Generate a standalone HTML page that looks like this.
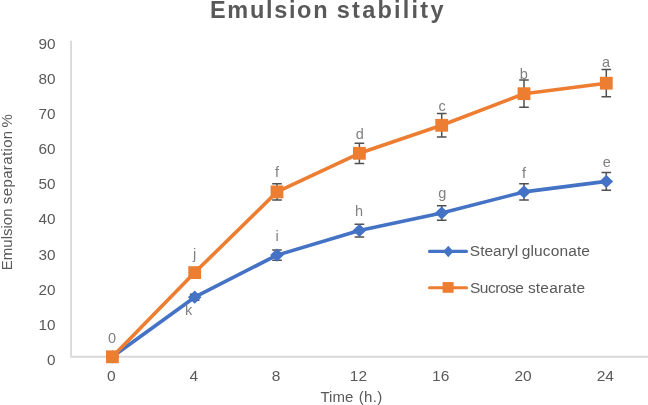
<!DOCTYPE html><html><head><meta charset="utf-8"><style>html,body{margin:0;padding:0;background:#fff;width:648px;height:405px;overflow:hidden}svg{display:block}text{font-family:"Liberation Sans",Arial,sans-serif;fill:#595959}</style></head><body>
<svg width="648" height="405" viewBox="0 0 648 405">
<rect width="648" height="405" fill="#fff"/>
<text y="17.8" font-weight="bold" font-size="23.5"><tspan x="209.99" textLength="117.5" lengthAdjust="spacing">Emulsion</tspan> <tspan x="336.8" textLength="106.7" lengthAdjust="spacing">stability</tspan></text>
<path d="M71.1 40.8V356.7H648" fill="none" stroke="#D9D9D9" stroke-width="1.9"/>
<text x="55.6" y="364.9" font-size="15.3" text-anchor="end">0</text>
<text x="55.6" y="329.8" font-size="15.3" text-anchor="end">10</text>
<text x="55.6" y="294.7" font-size="15.3" text-anchor="end">20</text>
<text x="55.6" y="259.5" font-size="15.3" text-anchor="end">30</text>
<text x="55.6" y="224.4" font-size="15.3" text-anchor="end">40</text>
<text x="55.6" y="189.3" font-size="15.3" text-anchor="end">50</text>
<text x="55.6" y="154.2" font-size="15.3" text-anchor="end">60</text>
<text x="55.6" y="119.1" font-size="15.3" text-anchor="end">70</text>
<text x="55.6" y="83.9" font-size="15.3" text-anchor="end">80</text>
<text x="55.6" y="48.8" font-size="15.3" text-anchor="end">90</text>
<text x="111.4" y="380.6" font-size="15.5" text-anchor="middle">0</text>
<text x="193.7" y="380.6" font-size="15.5" text-anchor="middle">4</text>
<text x="276.0" y="380.6" font-size="15.5" text-anchor="middle">8</text>
<text x="358.4" y="380.6" font-size="15.5" text-anchor="middle">12</text>
<text x="440.7" y="380.6" font-size="15.5" text-anchor="middle">16</text>
<text x="523.0" y="380.6" font-size="15.5" text-anchor="middle">20</text>
<text x="605.3" y="380.6" font-size="15.5" text-anchor="middle">24</text>
<text y="401.9" font-size="15"><tspan x="320.49" textLength="32.74" lengthAdjust="spacing">Time</tspan> <tspan x="358.68" textLength="23.62" lengthAdjust="spacing">(h.)</tspan></text>
<text transform="translate(11.6 268.9) rotate(-90)" y="0" font-size="15"><tspan x="-1.25" textLength="61.64" lengthAdjust="spacing">Emulsion</tspan> <tspan x="64.77" textLength="73.32" lengthAdjust="spacing">separation</tspan> <tspan x="141.44">%</tspan></text>

<path d="M194.7 294.2V300.2M189.9 294.2H199.5M189.9 300.2H199.5" stroke="#505050" stroke-width="1.5" fill="none"/>
<path d="M277.0 249.9V260.2M272.2 249.9H281.8M272.2 260.2H281.8" stroke="#505050" stroke-width="1.5" fill="none"/>
<path d="M359.4 224.2V236.9M354.6 224.2H364.2M354.6 236.9H364.2" stroke="#505050" stroke-width="1.5" fill="none"/>
<path d="M441.7 205.7V220.2M436.9 205.7H446.5M436.9 220.2H446.5" stroke="#505050" stroke-width="1.5" fill="none"/>
<path d="M524.0 183.8V200.1M519.2 183.8H528.8M519.2 200.1H528.8" stroke="#505050" stroke-width="1.5" fill="none"/>
<path d="M606.3 172.5V190.3M601.5 172.5H611.1M601.5 190.3H611.1" stroke="#505050" stroke-width="1.5" fill="none"/>
<polyline points="112.4,356.8 194.7,297.2 277.0,255.1 359.4,230.5 441.7,213.0 524.0,191.9 606.3,181.4" fill="none" stroke="#4472C4" stroke-width="3.6" stroke-linejoin="round" stroke-linecap="round"/>
<path d="M112.4 350.2L119.2 356.8L112.4 363.4L105.6 356.8Z" fill="#4472C4"/>
<path d="M194.7 290.6L201.5 297.2L194.7 303.8L187.9 297.2Z" fill="#4472C4"/>
<path d="M277.0 248.5L283.8 255.1L277.0 261.7L270.2 255.1Z" fill="#4472C4"/>
<path d="M359.4 223.9L366.2 230.5L359.4 237.1L352.6 230.5Z" fill="#4472C4"/>
<path d="M441.7 206.4L448.5 213.0L441.7 219.6L434.9 213.0Z" fill="#4472C4"/>
<path d="M524.0 185.3L530.8 191.9L524.0 198.5L517.2 191.9Z" fill="#4472C4"/>
<path d="M606.3 174.8L613.1 181.4L606.3 188.0L599.5 181.4Z" fill="#4472C4"/>


<path d="M277.0 183.8V200.0M272.2 183.8H281.8M272.2 200.0H281.8" stroke="#505050" stroke-width="1.5" fill="none"/>
<path d="M359.4 143.2V163.5M354.6 143.2H364.2M354.6 163.5H364.2" stroke="#505050" stroke-width="1.5" fill="none"/>
<path d="M441.7 113.6V137.0M436.9 113.6H446.5M436.9 137.0H446.5" stroke="#505050" stroke-width="1.5" fill="none"/>
<path d="M524.0 80.1V107.2M519.2 80.1H528.8M519.2 107.2H528.8" stroke="#505050" stroke-width="1.5" fill="none"/>
<path d="M606.3 69.5V96.8M601.5 69.5H611.1M601.5 96.8H611.1" stroke="#505050" stroke-width="1.5" fill="none"/>
<polyline points="112.4,356.8 194.7,272.6 277.0,191.9 359.4,153.3 441.7,125.3 524.0,93.7 606.3,83.2" fill="none" stroke="#ED7D31" stroke-width="3.6" stroke-linejoin="round" stroke-linecap="round"/>
<rect x="106.0" y="350.4" width="12.8" height="12.8" fill="#ED7D31"/>
<rect x="188.3" y="266.2" width="12.8" height="12.8" fill="#ED7D31"/>
<rect x="270.6" y="185.5" width="12.8" height="12.8" fill="#ED7D31"/>
<rect x="353.0" y="146.9" width="12.8" height="12.8" fill="#ED7D31"/>
<rect x="435.3" y="118.9" width="12.8" height="12.8" fill="#ED7D31"/>
<rect x="517.6" y="87.3" width="12.8" height="12.8" fill="#ED7D31"/>
<rect x="599.9" y="76.8" width="12.8" height="12.8" fill="#ED7D31"/>
<text x="112.1" y="342.5" font-size="14.5" text-anchor="middle" style="fill:#808080">0</text>
<text x="194.7" y="258.6" font-size="14.5" text-anchor="middle" style="fill:#808080">j</text>
<text x="277.0" y="177.1" font-size="14.5" text-anchor="middle" style="fill:#808080">f</text>
<text x="359.7" y="138.7" font-size="14.5" text-anchor="middle" style="fill:#808080">d</text>
<text x="442.2" y="111.4" font-size="14.5" text-anchor="middle" style="fill:#808080">c</text>
<text x="523.9" y="78.7" font-size="14.5" text-anchor="middle" style="fill:#808080">b</text>
<text x="606.1" y="67.3" font-size="14.5" text-anchor="middle" style="fill:#808080">a</text>
<text x="188.7" y="314.5" font-size="14.5" text-anchor="middle" style="fill:#808080">k</text>
<text x="277.2" y="240.9" font-size="14.5" text-anchor="middle" style="fill:#808080">i</text>
<text x="359.0" y="215.8" font-size="14.5" text-anchor="middle" style="fill:#808080">h</text>
<text x="442.2" y="198.3" font-size="14.5" text-anchor="middle" style="fill:#808080">g</text>
<text x="524.0" y="177.6" font-size="14.5" text-anchor="middle" style="fill:#808080">f</text>
<text x="606.9" y="166.7" font-size="14.5" text-anchor="middle" style="fill:#808080">e</text>
<line x1="429.5" y1="251.4" x2="466.5" y2="251.4" stroke="#4472C4" stroke-width="3.1" stroke-linecap="round"/>
<path d="M448.3 245.8L453.4 251.5L448.3 257.2L443.2 251.5Z" fill="#4472C4"/>
<text y="256.2" font-size="15.5"><tspan x="469.77" textLength="48.41" lengthAdjust="spacing">Stearyl</tspan> <tspan x="521.76" textLength="68.23" lengthAdjust="spacing">gluconate</tspan></text>
<line x1="429.5" y1="287.7" x2="466.5" y2="287.7" stroke="#ED7D31" stroke-width="3.1" stroke-linecap="round"/>
<rect x="442.6" y="282.1" width="11" height="10.7" fill="#ED7D31"/>
<text y="292.5" font-size="15.5"><tspan x="469.94" textLength="53.98" lengthAdjust="spacing">Sucrose</tspan> <tspan x="527.89" textLength="57.33" lengthAdjust="spacing">stearate</tspan></text>
</svg></body></html>
